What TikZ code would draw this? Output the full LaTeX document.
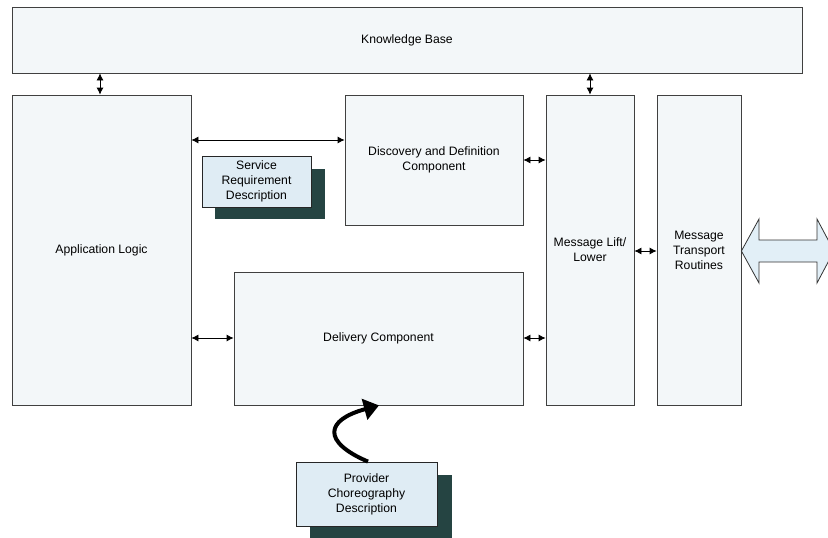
\documentclass[tikz,border=0pt]{standalone}
\usepackage{fontspec}
\setmainfont{Liberation Sans}
\usetikzlibrary{arrows.meta}
\definecolor{boxfill}{HTML}{F3F7F9}
\definecolor{notefill}{HTML}{DFECF4}
\definecolor{shadowc}{HTML}{254442}
\definecolor{arrowfill}{HTML}{E2EFF7}
\begin{document}
\begin{tikzpicture}[x=1pt,y=-1pt,
  font=\fontsize{12.2}{15}\selectfont,
  box/.style={draw=black!75, line width=0.8pt, fill=boxfill, rectangle, inner sep=2pt, align=center},
  note/.style={draw=black!85, line width=0.8pt, fill=notefill, rectangle, inner sep=2pt, align=center},
  shade/.style={fill=shadowc, rectangle, inner sep=0pt},
  dar/.style={{Latex[length=7pt,width=7pt]}-{Latex[length=7pt,width=7pt]}, line width=0.8pt}]
\useasboundingbox (0,0) rectangle (828,538);
\begin{scope}
\clip (0,0) rectangle (828,538);
\node[box, minimum width=790pt, minimum height=66pt] (kb) at (407,40) {Knowledge Base};
\node[box, minimum width=179pt, minimum height=310pt] (app) at (101.5,250) {Application Logic};
\node[box, minimum width=178pt, minimum height=130pt] (disc) at (434,160) {Discovery and Definition\\Component};
\node[box, minimum width=88pt, minimum height=310pt] (lift) at (590,250) {Message Lift/\\Lower};
\node[box, minimum width=84pt, minimum height=310pt] (trans) at (699,250) {Message\\Transport\\Routines};
\node[box, minimum width=289pt, minimum height=133pt] (deliv) at (378.5,338.5) {Delivery Component};
% notes
\node[shade, minimum width=110pt, minimum height=50pt] (srshadow) at (270,194) {};
\node[note, minimum width=109pt, minimum height=51pt] (sr) at (256.5,181.5) {Service\\Requirement\\Description};
\node[shade, minimum width=142pt, minimum height=63pt] (pcshadow) at (381,506.5) {};
\node[note, minimum width=141pt, minimum height=64pt] (pc) at (366.5,494) {Provider\\Choreography\\Description};
% connectors
\draw[dar] (kb.south -| 100,0) -- (app.north -| 100,0);
\draw[dar] (kb.south -| lift.north) -- (lift.north);
\draw[dar] (app.east |- 0,140) -- (disc.west |- 0,140);
\draw[dar] (disc.east |- 0,160) -- (lift.west |- 0,160);
\draw[dar] (app.east |- 0,338) -- (deliv.west |- 0,338);
\draw[dar] (deliv.east |- 0,338) -- (lift.west |- 0,338);
\draw[dar] (lift.east |- 0,251) -- (trans.west |- 0,251);
% curved arrow
\coordinate (ctail) at (pc.north -| 368,0);
\coordinate (chead) at (deliv.south -| 379,0);
\draw[line width=4pt, -{Triangle[length=15pt,width=21pt]}] (ctail) .. controls (322,442) and (325,420) .. (chead);
% big double arrow
\draw[black!80, line width=0.8pt, fill=arrowfill] (trans.east |- 0,251) -- (759,219) -- (759,240) -- (817,240) -- (817,219) -- (834,251) -- (817,283) -- (817,262) -- (759,262) -- (759,283) -- cycle;
\end{scope}
\end{tikzpicture}
\end{document}
